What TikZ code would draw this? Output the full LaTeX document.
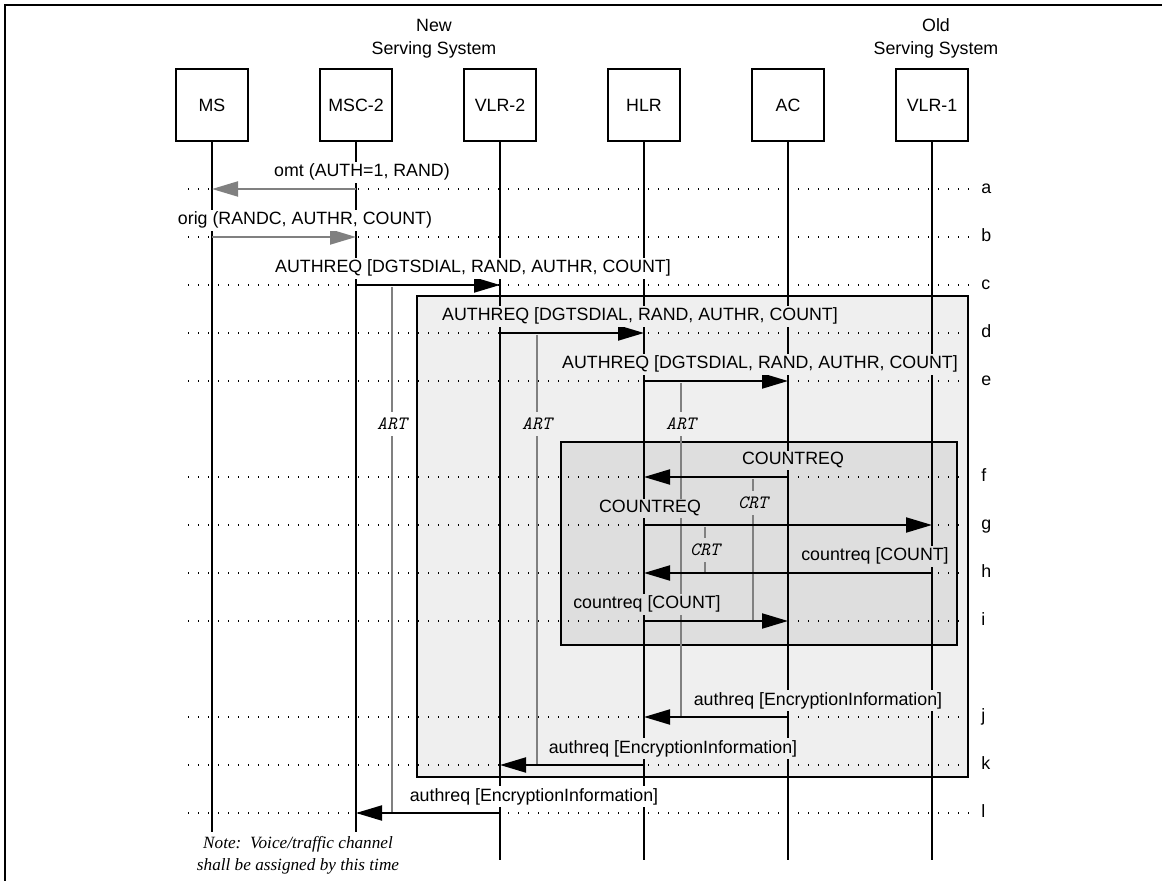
\documentclass[tikz,border=0pt]{standalone}
\usepackage{fontspec}
\setmainfont{Liberation Sans}
\newfontfamily\notefont{Liberation Serif}
\usetikzlibrary{arrows.meta, positioning}

\definecolor{outerbg}{HTML}{EFEFEF}
\definecolor{innerbg}{HTML}{DEDEDE}
\definecolor{airgray}{HTML}{808080}

\begin{document}
\begin{tikzpicture}[
  x=0.5pt, y=-0.5pt,
  every node/.style={font=\fontsize{8.9}{11.5}\selectfont},
  entity/.style={draw, line width=0.9pt, minimum width=36pt, minimum height=36pt, inner sep=0pt, outer sep=0pt},
  life/.style={line width=0.9pt},
  msg/.style={-{Triangle[length=13pt, width=7.5pt]}, line width=1pt},
  airmsg/.style={msg, airgray},
  grid/.style={line width=0.6pt, dash pattern=on 0.5pt off 4.5pt},
  lbl/.style={anchor=base, inner sep=1pt},
  timer/.style={airgray, line width=1pt},
  tlbl/.style={font=\fontsize{9.4}{10}\ttfamily\itshape, inner xsep=1pt, inner ysep=2.8pt},
  frame/.style={draw, line width=0.9pt}
]
\useasboundingbox (0,0) rectangle (1162,881);
\draw[line width=1pt] (5,881) -- (5,5) -- (1162,5);

% network entities
\node[entity] (ms) at (212,105) {MS};
\node[entity, right=36pt of ms] (msc) {MSC-2};
\node[entity, right=36pt of msc] (vlr2) {VLR-2};
\node[entity, right=36pt of vlr2] (hlr) {HLR};
\node[entity, right=36pt of hlr] (ac) {AC};
\node[entity, right=36pt of ac] (vlr1) {VLR-1};

\node[align=center, anchor=south, inner sep=0pt] (newsys) at (434,59) {New\\Serving System};
\node[align=center, anchor=south, inner sep=0pt] (oldsys) at (936,59) {Old\\Serving System};

% grey frames
\draw[frame, fill=outerbg] (417,296) rectangle (968,777);
\draw[frame, fill=innerbg] (561,442) rectangle (957,645);

% rows
\foreach \rw/\ry in {a/189, b/237, c/285, d/333, e/381, f/477, g/525, h/573, i/621, j/717, k/765, l/813} {
  \coordinate (row-\rw) at (0,\ry);
  \draw[grid] (188,\ry) -- (978,\ry);
  \node[anchor=base west, inner sep=0pt] (tag-\rw) at (981,\ry+4.6) {\rw};
}

% lifelines
\coordinate (endshort) at (0,832);
\coordinate (endlong) at (0,860);
\foreach \e in {ms, msc}
  \draw[life] (\e.south) -- (\e.south |- endshort);
\foreach \e in {vlr2, hlr, ac, vlr1}
  \draw[life] (\e.south) -- (\e.south |- endlong);

% timers
\draw[timer] (392,287) -- (392,813);
\node[tlbl, fill=white] (art-msc) at (392,424) {ART};
\draw[timer] (537,335) -- (537,766);
\node[tlbl, fill=outerbg] (art-vlr) at (537,424) {ART};
\draw[timer] (681,383) -- (681,717);
\node[tlbl, fill=outerbg] (art-hlr) at (681,424) {ART};
\draw[timer] (753,479) -- (753,621);
\node[tlbl, fill=innerbg] (crt-hlr) at (753,503) {CRT};
\draw[timer] (705,527) -- (705,573);
\node[tlbl, fill=innerbg] (crt-vlr) at (705,550) {CRT};

% messages
\draw[airmsg] (msc |- row-a) -- (ms |- row-a);
\draw[airmsg] (ms |- row-b) -- (msc |- row-b);
\draw[msg] (msc |- row-c) -- (vlr2 |- row-c);
\draw[msg] (vlr2 |- row-d) -- (hlr |- row-d);
\draw[msg] (hlr |- row-e) -- (ac |- row-e);
\draw[msg] (ac |- row-f) -- (hlr |- row-f);
\draw[msg] (hlr |- row-g) -- (vlr1 |- row-g);
\draw[msg] (vlr1 |- row-h) -- (hlr |- row-h);
\draw[msg] (hlr |- row-i) -- (ac |- row-i);
\draw[msg] (ac |- row-j) -- (hlr |- row-j);
\draw[msg] (hlr |- row-k) -- (vlr2 |- row-k);
\draw[msg] (vlr2 |- row-l) -- (msc |- row-l);

\node[lbl, fill=white] (lab-a) at (362,177) {omt (AUTH=1, RAND)};
\node[lbl, fill=white] (lab-b) at (305,225) {orig (RANDC, AUTHR, COUNT)};
\node[lbl, fill=white] (lab-c) at (473,273) {AUTHREQ [DGTSDIAL, RAND, AUTHR, COUNT]};
\node[lbl, fill=outerbg] (lab-d) at (640,321) {AUTHREQ [DGTSDIAL, RAND, AUTHR, COUNT]};
\node[lbl, fill=outerbg] (lab-e) at (760,369) {AUTHREQ [DGTSDIAL, RAND, AUTHR, COUNT]};
\node[lbl, fill=innerbg] (lab-f) at (793,465) {COUNTREQ};
\node[lbl, fill=innerbg] (lab-g) at (650,513) {COUNTREQ};
\node[lbl, fill=innerbg] (lab-h) at (875,561) {countreq [COUNT]};
\node[lbl, fill=innerbg] (lab-i) at (647,609) {countreq [COUNT]};
\node[lbl, fill=outerbg] (lab-j) at (818,705) {authreq [EncryptionInformation]};
\node[lbl, fill=outerbg] (lab-k) at (673,753) {authreq [EncryptionInformation]};
\node[lbl, fill=white] (lab-l) at (534,801) {authreq [EncryptionInformation]};

\node[align=center, font=\fontsize{8.6}{11}\notefont\itshape] (note) at (298,855)
  {Note:\ \ Voice/traffic channel\\shall be assigned by this time};
\end{tikzpicture}
\end{document}
